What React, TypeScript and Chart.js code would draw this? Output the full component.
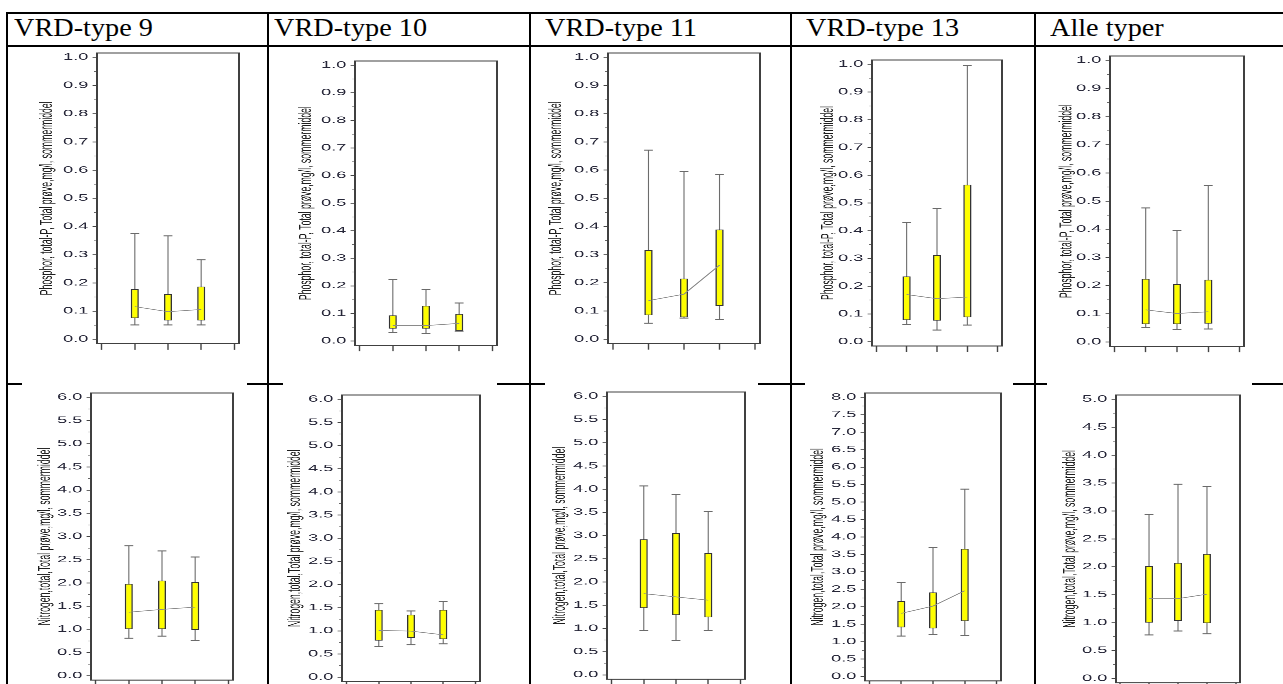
import React, { useEffect, useRef } from 'react';
import { Chart, registerables } from 'chart.js';

Chart.register(...registerables);

// ---------------- data ----------------
const groups = ['VRD-type 9', 'VRD-type 10', 'VRD-type 11', 'VRD-type 13', 'Alle typer'];
const boxX = [1, 2, 3];
const xTicks = [0, 1, 2, 3, 4];

const pTitle = 'Phosphor, total-P, Total prøve,mg/l, sommermiddel';
const nTitle = 'Nitrogen,total,Total prøve,mg/l, sommermiddel';

const pWhiskerLow = [[0.051, 0.051, 0.051], [0.031, 0.028, 0.036], [0.057, 0.075, 0.071], [0.062, 0.042, 0.06], [0.051, 0.045, 0.046]];
const pBoxLow = [[0.075, 0.067, 0.067], [0.045, 0.045, 0.037], [0.085, 0.078, 0.118], [0.078, 0.076, 0.088], [0.063, 0.063, 0.065]];
const pBoxHigh = [[0.178, 0.16, 0.187], [0.093, 0.128, 0.098], [0.316, 0.215, 0.389], [0.235, 0.312, 0.566], [0.224, 0.205, 0.221]];
const pWhiskerHigh = [[0.375, 0.367, 0.282], [0.223, 0.187, 0.138], [0.671, 0.595, 0.585], [0.429, 0.48, 0.995], [0.476, 0.396, 0.555]];
const pCentre = [[0.116, 0.098, 0.106], [0.056, 0.056, 0.064], [0.137, 0.16, 0.263], [0.17, 0.155, 0.161], [0.114, 0.101, 0.107]];
const pAxisMax = [1, 1, 1, 1, 1];
const pStep = 0.1;

const nWhiskerLow = [[0.81, 0.855, 0.76], [0.663, 0.7, 0.72], [0.955, 0.74, 0.955], [1.16, 1.21, 1.18], [0.78, 0.85, 0.8]];
const nBoxLow = [[1.006, 1.006, 0.99], [0.79, 0.85, 0.82], [1.44, 1.29, 1.24], [1.41, 1.38, 1.59], [1.0, 1.03, 0.99]];
const nBoxHigh = [[1.98, 2.05, 2.02], [1.455, 1.35, 1.455], [2.92, 3.05, 2.62], [2.16, 2.41, 3.66], [2.01, 2.07, 2.23]];
const nWhiskerHigh = [[2.8, 2.69, 2.56], [1.585, 1.43, 1.635], [4.07, 3.88, 3.52], [2.7, 3.69, 5.37], [2.94, 3.48, 3.44]];
const nCentre = [[1.37, 1.43, 1.48], [1.01, 0.995, 0.915], [1.75, 1.68, 1.61], [1.81, 2.02, 2.46], [1.43, 1.43, 1.51]];
const nAxisMax = [6, 6, 6, 8, 5];
const nStep = 0.5;

// ---------------- layout ----------------
const K = 2.0; // horizontal stretch of the chart pictures
const DPR = 4; // internal canvas resolution (sharper after the stretch)
const FAMILY = '"Liberation Sans", Arial, sans-serif';
const TICK_FONT = 9;
const TITLE_FONT = 8.7;
const TOPPAD = 8;
const LEFTW = 66;
const RIGHTW = 6;
const BOTTOMH = 12;
const X_MIN = -0.14;
const X_MAX = 4.14;

type Frame = { l: number; r: number; t: number; b: number; tx: number };
const pFrames: Frame[] = [
  { l: 96.7, r: 242.3, t: 53.3, b: 344, tx: 47 },
  { l: 355, r: 501, t: 60.7, b: 345, tx: 306 },
  { l: 607.7, r: 762.3, t: 52.7, b: 343.3, tx: 556 },
  { l: 871.7, r: 1004, t: 60, b: 346, tx: 828 },
  { l: 1110, r: 1246.7, t: 55.7, b: 346, tx: 1066.7 },
];
const nFrames: Frame[] = [
  { l: 91, r: 235.3, t: 393.3, b: 680.4, tx: 45 },
  { l: 341.7, r: 482.7, t: 394.7, b: 681.2, tx: 295 },
  { l: 606.7, r: 747, t: 392.3, b: 679.5, tx: 560 },
  { l: 865, r: 1003.3, t: 393.3, b: 681.2, tx: 818.3 },
  { l: 1116, r: 1243.3, t: 395, b: 682.8, tx: 1070 },
];
const headerX = [14, 274, 545, 806, 1050];
const vLines = [6, 267, 529, 790, 1034];
const bottomCovers = [[22, 247], [283, 497], [545, 758], [805, 1013], [1047, 1252]];

const framePlugin = {
  id: 'frameRect',
  afterDraw(chart: any) {
    const { ctx, chartArea: a } = chart;
    ctx.save();
    ctx.strokeStyle = '#404040';
    ctx.lineWidth = 1;
    ctx.strokeRect(a.left, a.top, a.right - a.left, a.bottom - a.top);
    ctx.restore();
  },
};

type BoxProps = {
  frame: Frame;
  lo: number[];
  q1: number[];
  q3: number[];
  hi: number[];
  mid: number[];
  axisMax: number;
  step: number;
  title: string;
};

function BoxChart({ frame, lo, q1, q3, hi, mid, axisMax, step, title }: BoxProps) {
  const ref = useRef<HTMLCanvasElement>(null);
  const leftU = LEFTW / K;
  const areaWU = (frame.r - frame.l) / K;
  const wInt = Math.ceil(leftU + areaWU + RIGHTW / K);
  const padRight = wInt - leftU - areaWU;
  const areaH = frame.b - frame.t;
  const hInt = Math.ceil(TOPPAD + areaH + BOTTOMH);
  const xAxisH = hInt - TOPPAD - areaH;
  const wrapLeft = frame.l - LEFTW;
  const wrapTop = frame.t - TOPPAD;
  const pad = axisMax * 0.0155;
  const titleXU = (frame.tx - wrapLeft) / K;
  const titlePad = titleXU - (TITLE_FONT * 1.2) / 2;

  useEffect(() => {
    if (!ref.current) return;
    const nMajor = Math.round(axisMax / step);
    const majors: number[] = [];
    for (let i = 0; i <= nMajor; i++) majors.push(+(i * step).toFixed(4));
    const minors: number[] = [];
    for (let i = 0; i < nMajor; i++) minors.push(+((i + 0.5) * step).toFixed(4));
    const caps: { x: number; y: number }[] = [];
    boxX.forEach((x, i) => {
      caps.push({ x, y: lo[i] });
      caps.push({ x, y: hi[i] });
    });
    const chart = new Chart(ref.current, {
      type: 'bar',
      data: {
        datasets: [
          {
            type: 'bar',
            label: 'whisker',
            data: boxX.map((x, i) => ({ x, y: [lo[i], hi[i]] })) as any,
            backgroundColor: '#6c6c6c',
            borderWidth: 0,
            barThickness: 0.55,
            inflateAmount: 0,
            grouped: false,
            order: 3,
          } as any,
          {
            type: 'bar',
            label: 'box',
            data: boxX.map((x, i) => ({ x, y: [q1[i], q3[i]] })) as any,
            backgroundColor: '#ffff00',
            borderColor: '#333333',
            borderWidth: 0.7,
            borderSkipped: false,
            inflateAmount: 0,
            barThickness: 4,
            grouped: false,
            order: 2,
          } as any,
          {
            type: 'line',
            label: 'centre',
            data: boxX.map((x, i) => ({ x, y: mid[i] })),
            borderColor: '#8a8a8a',
            borderWidth: 0.7,
            pointRadius: 0,
            fill: false,
            tension: 0,
            order: 1,
          } as any,
          {
            type: 'line',
            label: 'caps',
            data: caps,
            showLine: false,
            pointStyle: 'line',
            pointRadius: 2.2,
            pointBorderColor: '#6a6a6a',
            pointBorderWidth: 1,
            order: 0,
          } as any,
        ],
      },
      options: {
        animation: false,
        responsive: false,
        devicePixelRatio: DPR,
        events: [],
        layout: { padding: { top: TOPPAD, left: 0, bottom: 0, right: padRight } },
        plugins: { legend: { display: false }, tooltip: { enabled: false } },
        scales: {
          x: {
            type: 'linear',
            min: X_MIN,
            max: X_MAX,
            offset: false,
            border: { display: false },
            grid: { display: true, drawOnChartArea: false, drawTicks: true, tickLength: 6, tickColor: '#444', tickWidth: 0.7, offset: false },
            ticks: { display: false },
            afterBuildTicks: (s: any) => {
              s.ticks = xTicks.map((v) => ({ value: v }));
            },
            afterFit: (s: any) => {
              s.height = xAxisH;
            },
          },
          y: {
            type: 'linear',
            position: 'left',
            weight: 1,
            min: -pad,
            max: axisMax + pad,
            border: { display: false },
            grid: { display: true, drawOnChartArea: false, drawTicks: true, tickLength: 2.2, tickColor: '#444', tickWidth: 0.8 },
            ticks: {
              autoSkip: false,
              padding: 2.2,
              color: '#262638',
              font: { family: FAMILY, size: TICK_FONT },
              callback: (v: any) => Number(v).toFixed(1),
            },
            afterBuildTicks: (s: any) => {
              s.ticks = majors.map((v) => ({ value: v }));
            },
            title: {
              display: true,
              text: title,
              color: '#1e1e1e',
              font: { family: FAMILY, size: TITLE_FONT },
              padding: { top: titlePad, bottom: 0 },
            },
            afterFit: (s: any) => {
              s.width = leftU;
            },
          },
          y2: {
            type: 'linear',
            position: 'left',
            weight: 0,
            min: -pad,
            max: axisMax + pad,
            border: { display: false },
            grid: { display: true, drawOnChartArea: false, drawTicks: true, tickLength: 1.5, tickColor: '#666', tickWidth: 0.6 },
            ticks: { display: false },
            afterBuildTicks: (s: any) => {
              s.ticks = minors.map((v) => ({ value: v }));
            },
            afterFit: (s: any) => {
              s.width = 0;
            },
          },
        },
      } as any,
      plugins: [framePlugin],
    });
    return () => chart.destroy();
  }, []);

  return (
    <div style={{ position: 'absolute', left: wrapLeft, top: wrapTop, width: wInt * K, height: hInt, zIndex: 3 }}>
      <canvas
        ref={ref}
        width={wInt}
        height={hInt}
        style={{ width: wInt, height: hInt, display: 'block', transform: `scaleX(${K})`, transformOrigin: '0 0' }}
      />
    </div>
  );
}

const line = (left: number, top: number, width: number, height: number, key: string) => (
  <div key={key} style={{ position: 'absolute', left, top, width, height, background: '#000' }} />
);

export default function App() {
  return (
    <div style={{ position: 'absolute', left: 0, top: 0, width: 1283, height: 684, overflow: 'hidden', background: '#fff' }}>
      {line(6, 12, 1277, 2, 'top')}
      {line(6, 45, 1277, 2, 'hdr')}
      {line(6, 383, 1277, 2, 'row')}
      {vLines.map((x, i) => line(x, 12, 2, 672, 'v' + i))}
      {bottomCovers.map(([a, b], i) => (
        <div key={'c' + i} style={{ position: 'absolute', left: a, top: 380, width: b - a, height: 8, background: '#fff', zIndex: 2 }} />
      ))}
      {groups.map((g, i) => (
        <div
          key={'h' + i}
          style={{
            position: 'absolute',
            left: headerX[i],
            top: 15.1,
            fontFamily: '"Liberation Serif", "Times New Roman", serif',
            fontSize: 25,
            lineHeight: '25px',
            whiteSpace: 'nowrap',
            color: '#000',
            transform: 'scaleX(1.13)',
            transformOrigin: '0 0',
          }}
        >
          {g}
        </div>
      ))}
      {groups.map((g, i) => (
        <BoxChart
          key={'p' + i}
          frame={pFrames[i]}
          lo={pWhiskerLow[i]}
          q1={pBoxLow[i]}
          q3={pBoxHigh[i]}
          hi={pWhiskerHigh[i]}
          mid={pCentre[i]}
          axisMax={pAxisMax[i]}
          step={pStep}
          title={pTitle}
        />
      ))}
      {groups.map((g, i) => (
        <BoxChart
          key={'n' + i}
          frame={nFrames[i]}
          lo={nWhiskerLow[i]}
          q1={nBoxLow[i]}
          q3={nBoxHigh[i]}
          hi={nWhiskerHigh[i]}
          mid={nCentre[i]}
          axisMax={nAxisMax[i]}
          step={nStep}
          title={nTitle}
        />
      ))}
    </div>
  );
}
